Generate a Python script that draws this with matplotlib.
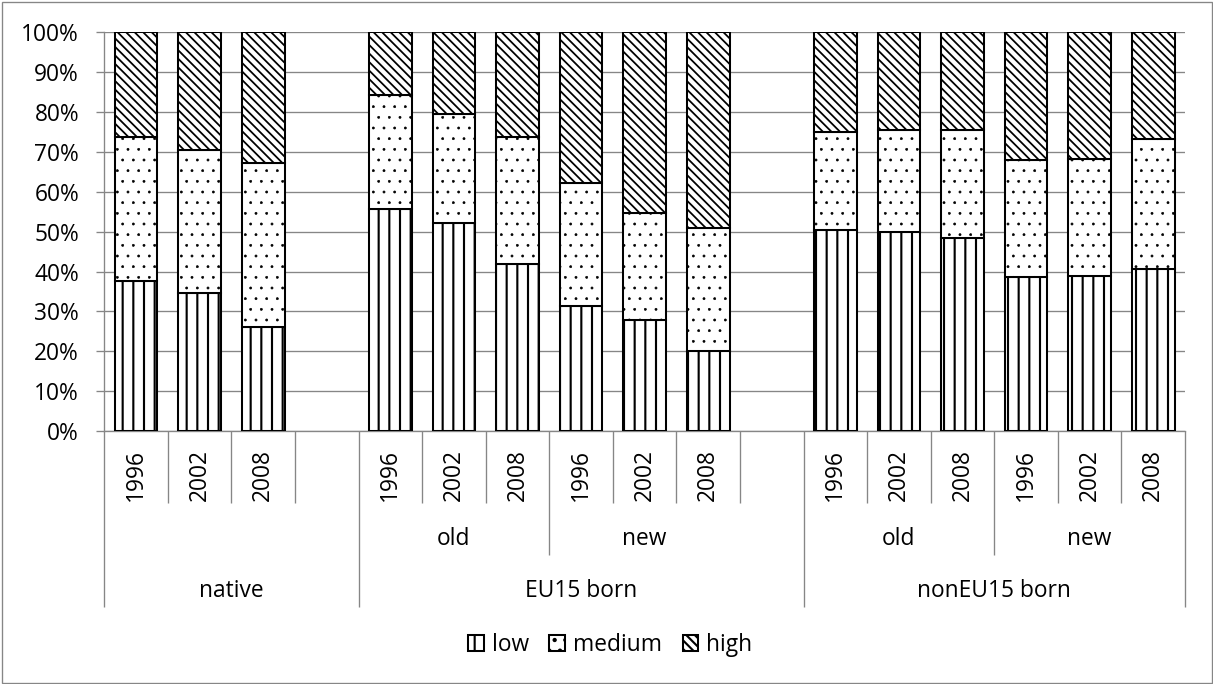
import matplotlib
matplotlib.use("Agg")
import matplotlib.pyplot as plt
from matplotlib.patches import Rectangle
from matplotlib.ticker import PercentFormatter

# ---------------------------------------------------------------- data
groups = ["native", "EU15 born", "nonEU15 born"]
subgroups = {"native": [""], "EU15 born": ["old", "new"], "nonEU15 born": ["old", "new"]}
years = ["1996", "2002", "2008"]

# share of each education level (%), bars in drawing order:
# native 96/02/08, EU15 old 96/02/08, EU15 new 96/02/08,
# nonEU15 old 96/02/08, nonEU15 new 96/02/08
low_share = [37.6, 34.5, 26.2,
             55.6, 52.2, 42.0,
             31.4, 27.9, 20.0,
             50.3, 49.9, 48.4,
             38.7, 39.0, 40.7]
medium_share = [36.1, 35.9, 40.9,
                28.7, 27.3, 31.8,
                30.7, 26.9, 31.0,
                24.6, 25.7, 27.1,
                29.2, 29.1, 32.6]
high_share = [26.3, 29.6, 32.9,
              15.7, 20.5, 26.2,
              37.9, 45.2, 49.0,
              25.1, 24.4, 24.5,
              32.1, 31.9, 26.7]

series_names = ["low", "medium", "high"]
BACKSLASH = chr(92)
series_hatch = ["||", "..", BACKSLASH * 5]
series_hatch_lw = [1.2, 0.35, 1.0]

# ---------------------------------------------------------------- style
DPI = 128
W, H = 1213, 684
GRID = "#868686"
FONT = ["Open Sans", "DejaVu Sans"]
FS = 12.8

plt.rcParams["font.family"] = FONT
plt.rcParams["hatch.color"] = "black"
plt.rcParams["hatch.linewidth"] = 1.2

fig = plt.figure(figsize=(W / DPI, H / DPI), dpi=DPI)
fig.patch.set_facecolor("white")

# chart border
fig.patches.append(Rectangle((1.5 / W, 1.5 / H), (W - 3) / W, (H - 3) / H,
                             transform=fig.transFigure, fill=False,
                             edgecolor=GRID, lw=0.75))

ax_l, ax_r, ax_t, ax_b = 104.3, 1185.0, 32.3, 431.0
ax = fig.add_axes([ax_l / W, (H - ax_b) / H, (ax_r - ax_l) / W, (ax_b - ax_t) / H])

# ---------------------------------------------------------------- slot layout
# one slot per year bar, plus an empty slot after each group but the last
positions = []
year_slots = []      # (position, year label)
sub_spans = []       # (start, end, label)
group_spans = []     # (start, end, label)
slot = 0
for gi, g in enumerate(groups):
    g_start = slot
    for sg in subgroups[g]:
        s_start = slot
        for y in years:
            positions.append(slot)
            year_slots.append((slot, y))
            slot += 1
        sub_spans.append((s_start, slot, sg))
    if gi < len(groups) - 1:
        slot += 1
    group_spans.append((g_start, slot, g))
n_slots = slot

# ---------------------------------------------------------------- bars
bar_w = 0.67
bottom = [0.0] * len(positions)
for name, vals, hatch, hlw in zip(series_names, [low_share, medium_share, high_share],
                                  series_hatch, series_hatch_lw):
    heights = [v / 100 for v in vals]
    with plt.rc_context({"hatch.linewidth": hlw}):
        bars = ax.bar(positions, heights, width=bar_w, bottom=bottom, color="white",
                      edgecolor="black", linewidth=1.15, hatch=hatch, zorder=3, label=name)
        for b in bars:
            if hasattr(b, "set_hatch_linewidth"):
                b.set_hatch_linewidth(hlw)
    bottom = [b0 + h for b0, h in zip(bottom, heights)]

# ---------------------------------------------------------------- axes
ax.set_xlim(-0.5, n_slots - 0.5)
ax.set_ylim(0, 1)
ax.set_yticks([i / 10 for i in range(11)])
ax.yaxis.set_major_formatter(PercentFormatter(1.0, decimals=0))
ax.set_xticks([])
ax.set_axisbelow(True)
ax.yaxis.grid(True, color=GRID, lw=0.75)
for side in ["top", "right"]:
    ax.spines[side].set_visible(False)
for side in ["left", "bottom"]:
    ax.spines[side].set_color(GRID)
    ax.spines[side].set_linewidth(0.75)
ax.tick_params(axis="y", direction="out", length=4.7, width=0.75, color=GRID,
               pad=9.5, labelsize=FS, labelcolor="black")

# ---------------------------------------------------------------- multi-level category axis
trans = ax.get_xaxis_transform()
px = 1.0 / (ax_b - ax_t)           # one pixel in axes-fraction units
y_year, y_sub, y_group = -(503 - ax_b) * px, -(555 - ax_b) * px, -(607 - ax_b) * px

sub_edges = set()
for s0, s1, lab in sub_spans:
    if lab:
        sub_edges.add(s0)
group_edges = set()
for g0, g1, _ in group_spans:
    group_edges.update([g0, g1])

for k in range(n_slots + 1):
    if k in group_edges:
        y_end = y_group
    elif k in sub_edges:
        y_end = y_sub
    else:
        y_end = y_year
    ax.plot([k - 0.5, k - 0.5], [0, y_end], transform=trans, color=GRID,
            lw=0.75, clip_on=False, solid_capstyle="butt")

for pos, y in year_slots:
    ax.text(pos, -(475 - ax_b) * px, y, transform=trans, rotation=90,
            ha="center", va="center", fontsize=FS, rotation_mode="anchor")
for s0, s1, lab in sub_spans:
    if lab:
        ax.text((s0 + s1 - 1) / 2, -(539 - ax_b) * px, lab, transform=trans,
                ha="center", va="center", fontsize=FS)
for g0, g1, lab in group_spans:
    ax.text((g0 + g1 - 1) / 2, -(591 - ax_b) * px, lab, transform=trans,
            ha="center", va="center", fontsize=FS)

# ---------------------------------------------------------------- legend
handles, labels = ax.get_legend_handles_labels()
fig.legend(handles, labels, loc="center", bbox_to_anchor=(0.503, (H - 645) / H),
           ncol=3, frameon=False, fontsize=FS, handlelength=0.7, handleheight=0.7,
           handletextpad=0.35, columnspacing=0.9, borderaxespad=0)

fig.savefig("out.png", dpi=DPI, facecolor="white")
